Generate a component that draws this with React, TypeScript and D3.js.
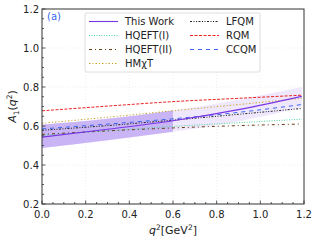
import React from 'react'
import * as d3 from 'd3'

const q2 = [0, 0.3, 0.6, 0.9, 1.19]

const thisWork = [0.543, 0.583, 0.627, 0.684, 0.752]
const bandLow = [0.487, 0.527, 0.57, 0.625, 0.695]
const bandHigh = [0.607, 0.637, 0.68, 0.735, 0.8]
const hqeft1 = [0.553, 0.575, 0.598, 0.617, 0.635]
const hqeft2 = [0.557, 0.575, 0.59, 0.602, 0.61]
const hmxt = [0.614, 0.645, 0.678, 0.71, 0.742]
const lfqm = [0.578, 0.602, 0.63, 0.66, 0.69]
const rqm = [0.678, 0.702, 0.725, 0.742, 0.758]
const ccqm = [0.585, 0.61, 0.637, 0.67, 0.71]

const xTicks = [0, 0.2, 0.4, 0.6, 0.8, 1.0, 1.2]
const yTicks = [0.2, 0.4, 0.6, 0.8, 1.0, 1.2]

const W = 317
const H = 240
const margin = { top: 9, right: 13, bottom: 36, left: 42 }
const font = 'DejaVu Sans, sans-serif'

const series = [
    { name: 'This Work', vals: thisWork, color: '#7b35e6', dash: '', w: 1.1 },
    { name: 'HQEFT(I)', vals: hqeft1, color: '#4fd49a', dash: '1,1.5', w: 1 },
    { name: 'HQEFT(II)', vals: hqeft2, color: '#6b3d14', dash: '3,3,1,3', w: 1 },
    { name: 'HMχT', vals: hmxt, color: '#c9a227', dash: '1.5,2,1,2', w: 1 },
    { name: 'LFQM', vals: lfqm, color: '#222222', dash: '2,1.5,1,1.5,1,1.5', w: 1 },
    { name: 'RQM', vals: rqm, color: '#ee2222', dash: '3,1.5', w: 1 },
    { name: 'CCQM', vals: ccqm, color: '#3a66ee', dash: '4,4', w: 1 },
]

export default function App() {
    const innerW = W - margin.left - margin.right
    const innerH = H - margin.top - margin.bottom
    const x = d3.scaleLinear().domain([0, 1.2]).range([margin.left, margin.left + innerW])
    const y = d3.scaleLinear().domain([0.2, 1.2]).range([margin.top + innerH, margin.top])

    const line = d3.line<number>()
        .x((d, i) => x(q2[i]))
        .y(d => y(d))
        .curve(d3.curveMonotoneX)

    const area = d3.area<number>()
        .x((d, i) => x(q2[i]))
        .y0((d, i) => y(bandLow[i]))
        .y1((d, i) => y(bandHigh[i]))
        .curve(d3.curveMonotoneX)

    const darkIdx = [0, 1, 2]
    const darkArea = d3.area<number>()
        .x(i => x(q2[i]))
        .y0(i => y(bandLow[i]))
        .y1(i => y(bandHigh[i]))
        .curve(d3.curveMonotoneX)

    const minorX = d3.range(0, 1.2001, 0.05)
    const minorY = d3.range(0.2, 1.2001, 0.05)
    const x0 = margin.left, x1 = margin.left + innerW
    const y0 = margin.top + innerH, y1 = margin.top

    // legend layout
    const lg = { x: 85, y: 13, w: 175, h: 59 }
    const rowY = [21.5, 35.5, 49.5, 63.5]

    return (
        <svg width={W} height={H} style={{ position: 'absolute', left: 0, top: 0, background: '#fff' }}>
            {/* grid */}
            {xTicks.slice(1, -1).map(t => (
                <line key={'gx' + t} x1={x(t)} x2={x(t)} y1={y1} y2={y0} stroke="#e4e4e4" strokeWidth={0.6} strokeDasharray="1,2" />
            ))}
            {yTicks.slice(1, -1).map(t => (
                <line key={'gy' + t} x1={x0} x2={x1} y1={y(t)} y2={y(t)} stroke="#e4e4e4" strokeWidth={0.6} strokeDasharray="1,2" />
            ))}

            {/* band */}
            <path d={area(thisWork) || ''} fill="#efe7fc" />
            <path d={darkArea(darkIdx) || ''} fill="#c9b5f6" />

            {series.slice(1).map(s => (
                <path key={s.name} d={line(s.vals) || ''} fill="none" stroke={s.color} strokeWidth={s.w} strokeDasharray={s.dash} />
            ))}
            <path d={line(thisWork) || ''} fill="none" stroke={series[0].color} strokeWidth={1.1} />

            {/* frame */}
            <rect x={x0} y={y1} width={innerW} height={innerH} fill="none" stroke="#333" strokeWidth={1} />

            {/* ticks */}
            {minorX.map(t => {
                const major = Math.abs(t * 5 - Math.round(t * 5)) < 1e-6
                return <line key={'tx' + t} x1={x(t)} x2={x(t)} y1={y0} y2={y0 - (major ? 3.5 : 2)} stroke="#333" strokeWidth={0.8} />
            })}
            {minorY.map(t => {
                const major = Math.abs(t * 5 - Math.round(t * 5)) < 1e-6
                return <line key={'ty' + t} x1={x0} x2={x0 + (major ? 3.5 : 2)} y1={y(t)} y2={y(t)} stroke="#333" strokeWidth={0.8} />
            })}
            {xTicks.map(t => (
                <text key={'lx' + t} x={x(t)} y={y0 + 14} textAnchor="middle" fontSize={10} fontFamily={font} fill="#222">{t.toFixed(1)}</text>
            ))}
            {yTicks.map(t => (
                <text key={'ly' + t} x={x0 - 3} y={y(t) + 3.5} textAnchor="end" fontSize={10} fontFamily={font} fill="#222">{t.toFixed(1)}</text>
            ))}

            {/* axis labels */}
            <text x={x((0 + 1.2) / 2)} y={234} textAnchor="middle" fontSize={11} fontFamily={font} fill="#222">
                <tspan fontStyle="italic">q</tspan>
                <tspan fontSize={7.5} dy={-4.5}>2</tspan>
                <tspan dy={4.5}>[GeV</tspan>
                <tspan fontSize={7.5} dy={-4.5}>2</tspan>
                <tspan dy={4.5}>]</tspan>
            </text>
            <text transform={`translate(16,${(y0 + y1) / 2}) rotate(-90)`} textAnchor="middle" fontSize={11} fontFamily={font} fill="#222">
                <tspan fontStyle="italic">A</tspan>
                <tspan fontSize={7.5} dy={2.5}>1</tspan>
                <tspan dy={-2.5}>(</tspan>
                <tspan fontStyle="italic">q</tspan>
                <tspan fontSize={7.5} dy={-4.5}>2</tspan>
                <tspan dy={4.5}>)</tspan>
            </text>

            <text x={47} y={20} fontSize={10} fontFamily={font} fill="#3a66ee">(a)</text>

            {/* legend */}
            <rect x={lg.x} y={lg.y} width={lg.w} height={lg.h} rx={2} fill="#fff" fillOpacity={0.85} stroke="#d6d6d6" strokeWidth={0.8} />
            {series.map((s, i) => {
                const col = i < 4 ? 0 : 1
                const row = i < 4 ? i : i - 4
                const lx = col === 0 ? 89 : 190
                const ly = rowY[row]
                return (
                    <g key={'lg' + s.name}>
                        <line x1={lx} x2={lx + 29} y1={ly} y2={ly} stroke={s.color} strokeWidth={s.w} strokeDasharray={s.dash} />
                        <text x={lx + 36} y={ly + 3.5} fontSize={10} fontFamily={font} fill="#222">{s.name}</text>
                    </g>
                )
            })}
        </svg>
    )
}
